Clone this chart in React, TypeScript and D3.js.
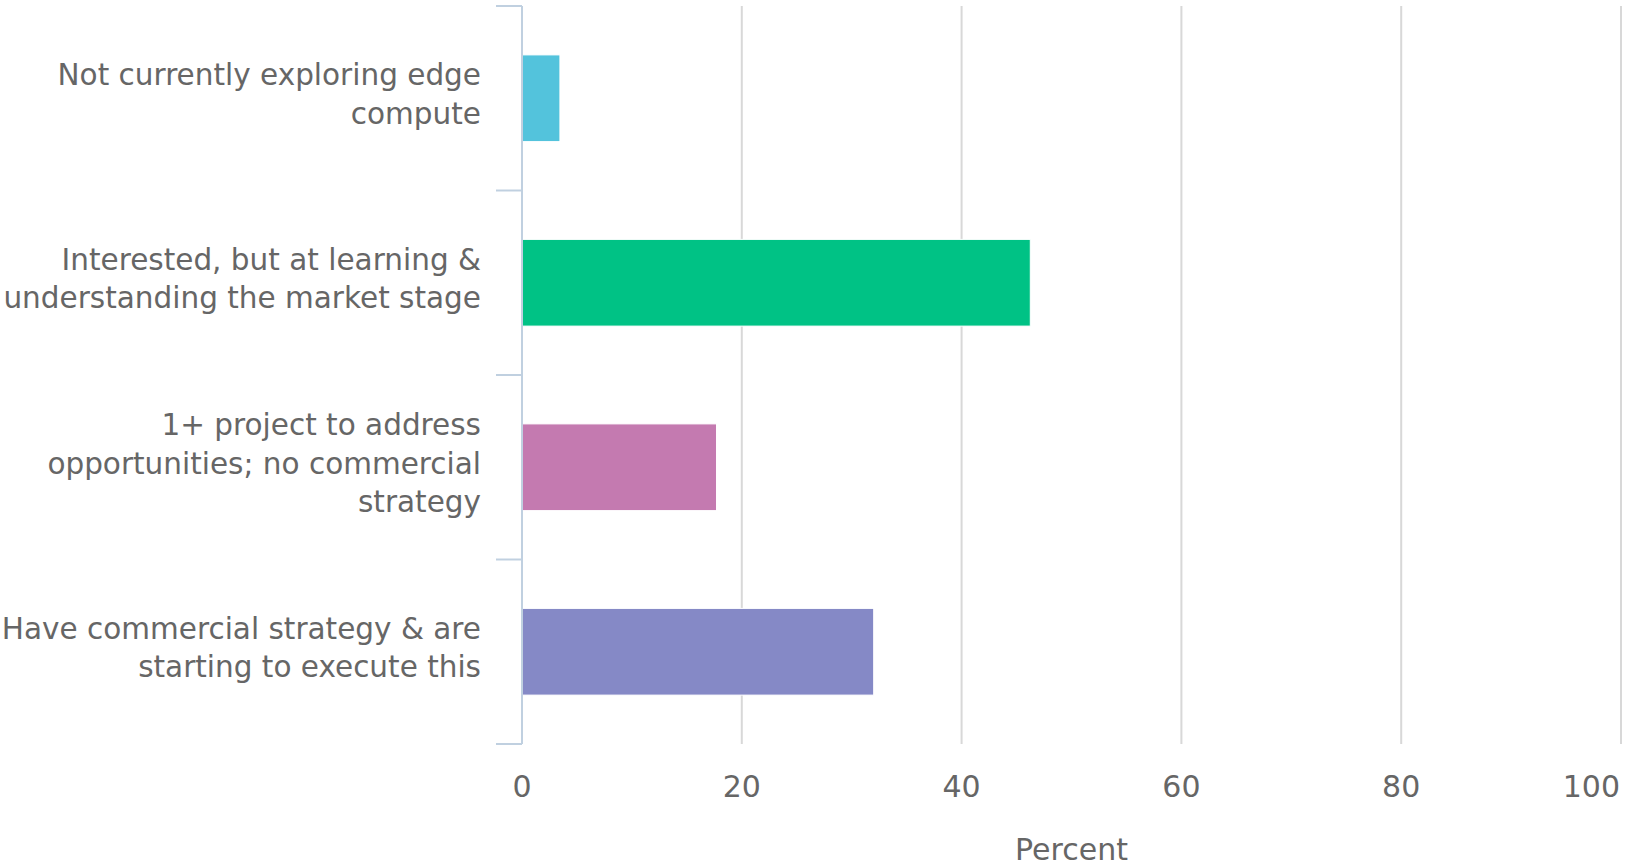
import React from "react";
import * as d3 from "d3";

const categories = [
  "Not currently exploring edge\ncompute",
  "Interested, but at learning &\nunderstanding the market stage",
  "1+ project to address\nopportunities; no commercial\nstrategy",
  "Have commercial strategy & are\nstarting to execute this",
];
const values = [3.45, 46.25, 17.7, 32.0];
const colors = ["#53c3dc", "#00c285", "#c47ab0", "#8589c6"];
const xTicks = [0, 20, 40, 60, 80, 100];
const xTitle = "Percent";

export default function App() {
  const W = 1628, H = 866;
  const left = 522, right = 1621, top = 6, bottom = 744;
  const x = d3.scaleLinear().domain([0, 100]).range([left, right]);
  const y = d3.scaleBand<number>().domain(categories.map((_, i) => i)).range([top, bottom]).paddingInner(0.53).paddingOuter(0.265);
  const band = (bottom - top) / categories.length;
  const font = "'DejaVu Sans', Verdana, sans-serif";
  const fs = 29.5;
  const lh = 38.5;
  return (
    <svg width={W} height={H} style={{ position: "absolute", left: 0, top: 0, background: "#fff" }} fontFamily={font}>
      {xTicks.slice(1).map((t) => (
        <line key={t} x1={x(t)} x2={x(t)} y1={top} y2={bottom} stroke="#d8d8d8" strokeWidth={2} />
      ))}
      {values.map((v, i) => (
        <rect key={i} x={x(0)} y={y(i)} width={x(v) - x(0)} height={y.bandwidth()} fill={colors[i]} stroke="#fff" strokeWidth={1} />
      ))}
      <line x1={left} x2={left} y1={top} y2={bottom} stroke="#c0d0e0" strokeWidth={2} />
      {d3.range(categories.length + 1).map((i) => (
        <line key={i} x1={left - 26} x2={left} y1={top + i * band} y2={top + i * band} stroke="#c0d0e0" strokeWidth={2} />
      ))}
      {categories.map((c, i) => {
        const lines = c.split("\n");
        const cy = top + (i + 0.5) * band - 4;
        const y0 = cy - ((lines.length - 1) * lh) / 2;
        return (
          <text key={i} textAnchor="end" fill="#666" fontSize={fs}>
            {lines.map((l, j) => (
              <tspan key={j} x={481} y={y0 + j * lh} dy="0.35em">{l}</tspan>
            ))}
          </text>
        );
      })}
      {xTicks.map((t, i) => {
        const last = i === xTicks.length - 1;
        return (
          <text key={t} x={last ? 1620 : x(t)} y={786} dy="0.35em" textAnchor={last ? "end" : "middle"} fill="#666" fontSize={30}>{t}</text>
        );
      })}
      <text x={(left + right) / 2} y={849} dy="0.35em" textAnchor="middle" fill="#666" fontSize={30}>{xTitle}</text>
    </svg>
  );
}
